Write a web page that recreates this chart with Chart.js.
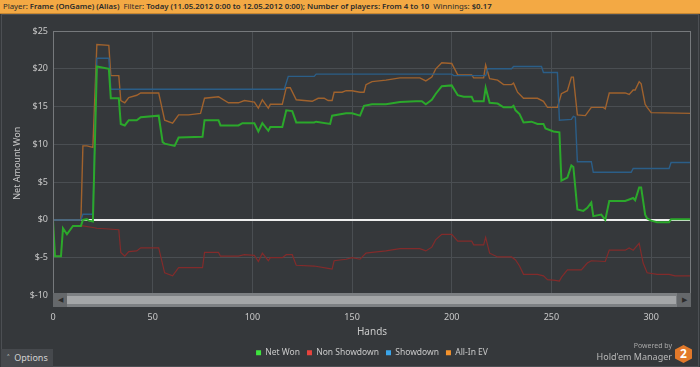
<!DOCTYPE html>
<html lang="en">
<head>
<meta charset="UTF-8">
<title>Net Amount Won</title>
<script src="https://cdn.jsdelivr.net/npm/chart.js"></script>
<style>
    body { margin: 0; background: #35383b; font-family: 'Noto Sans', sans-serif; }
    #panel { position: relative; width: 700px; height: 367px; overflow: hidden; background: #35383b; }
    .topbar {
        position: absolute; left: 0; top: 0; width: 700px; height: 14px;
        background: #f3a944; border-bottom: 1px solid #c58632; box-sizing: border-box;
        font-size: 7.8px; line-height: 13px; color: #2b2b2b; padding-left: 3px; white-space: nowrap;
    }
    .topbar b { font-weight: 600; }
    .frame { position: absolute; left: 1px; top: 14px; width: 696px; height: 351px; border: 1px solid #4c4f53; }
    #chartBox { position: absolute; left: 0; top: 14px; width: 700px; height: 353px; }
    .scroll { position: absolute; left: 53px; top: 293px; width: 638px; height: 14px; background: #7d8083; }
    .scroll .track { position: absolute; left: 14px; right: 15px; top: 3px; height: 8px; background: #a4a6a8; }
    .scroll .btn { position: absolute; top: 0; width: 14px; height: 14px; background: #65686b; color: #2c2c2c; font-size: 7px; line-height: 14px; text-align: center; }
    .options {
        position: absolute; left: 1px; top: 349px; width: 52px; height: 18px; background: #46494d;
        color: #d2d2d2; font-size: 9px; line-height: 18px; padding-left: 6px; box-sizing: border-box;
    }
    .powered { position: absolute; right: 28px; top: 341px; font-size: 7px; color: #a8a8a8; }
    .brand { position: absolute; right: 28px; top: 350px; font-size: 9px; color: #b9b9b9; }
    .hex {
        position: absolute; left: 675px; top: 345px; width: 17px; height: 18px; background: #e2792a;
        clip-path: polygon(50% 0, 100% 25%, 100% 75%, 50% 100%, 0 75%, 0 25%);
        color: #fff; font-weight: 700; font-size: 12px; line-height: 18px; text-align: center;
    }
</style>
</head>
<body>
<div id="panel">
    <div class="topbar">Player: <b>Frame (OnGame) (Alias)</b>&nbsp; Filter: <b>Today (11.05.2012 0:00 to 12.05.2012 0:00); Number of players: From 4 to 10</b>&nbsp; Winnings: <b>$0.17</b></div>
    <div class="frame"></div>
    <div id="chartBox"><canvas id="netChart" width="700" height="353"></canvas></div>
    <div class="scroll">
        <div class="btn" style="left:0">&#9664;</div>
        <div class="track"></div>
        <div class="btn" style="right:0">&#9654;</div>
    </div>
    <div class="options">&#708;&nbsp; Options</div>
    <div class="powered">Powered by</div>
    <div class="brand">Hold'em Manager</div>
    <div class="hex">2</div>
</div>
<script>
    // values, hand number -> dollars
    const netWonHands = [0, 1, 4, 5, 7, 10, 14, 15, 17, 18, 20, 22, 28, 29, 33, 34, 36, 38, 42, 44, 53, 55, 56, 61, 63, 75, 76, 83, 84, 93, 95, 101, 103, 105, 108, 109, 115, 117, 120, 122, 131, 132, 139, 140, 147, 150, 154, 156, 160, 167, 174, 182, 185, 187, 190, 192, 195, 200, 203, 206, 210, 211, 216, 217, 219, 223, 226, 230, 231, 232, 234, 236, 240, 243, 246, 247, 251, 254, 255, 258, 260, 261, 263, 266, 268, 270, 271, 275, 277, 279, 287, 291, 292, 294, 295, 297, 298, 300, 303, 309, 310, 320];
    const netWonValues = [0, -4.8, -4.8, -1.1, -1.9, -0.8, -0.8, 0, 0.1, -0.1, -0.2, 20.3, 20.0, 16.1, 16.1, 12.7, 12.5, 13.2, 13.2, 13.6, 13.8, 10.3, 10.1, 9.8, 10.9, 11.0, 13.2, 13.2, 12.5, 12.5, 12.8, 12.8, 11.7, 12.8, 11.8, 12.3, 12.3, 14.5, 14.4, 12.9, 12.9, 13.0, 12.7, 13.8, 14.1, 14.1, 13.8, 15.1, 15.3, 15.3, 15.6, 15.7, 15.7, 15.3, 15.9, 16.7, 17.7, 17.8, 16.5, 16.3, 16.3, 15.7, 15.7, 17.5, 15.5, 15.4, 14.9, 14.9, 15.1, 14.5, 14.0, 12.9, 13.0, 12.7, 12.7, 12.1, 11.7, 11.6, 5.2, 5.6, 7.2, 7.0, 1.4, 1.2, 1.6, 2.3, 0.5, 0.7, 0.0, 2.5, 2.5, 2.9, 2.6, 4.3, 4.3, 0.7, 0.2, -0.1, -0.3, -0.3, 0.1, 0.1];

    const nonShowdownHands = [0, 1, 4, 5, 7, 10, 14, 15, 20, 22, 28, 33, 34, 36, 38, 42, 44, 53, 56, 60, 63, 75, 76, 83, 84, 93, 96, 101, 103, 105, 108, 109, 115, 117, 120, 122, 131, 138, 140, 141, 147, 150, 154, 157, 160, 167, 174, 184, 187, 190, 192, 195, 200, 203, 210, 211, 216, 217, 219, 223, 230, 232, 234, 236, 243, 246, 248, 252, 254, 255, 258, 265, 268, 270, 277, 279, 287, 289, 291, 294, 296, 298, 303, 309, 312, 320];
    const nonShowdownValues = [0, -4.8, -4.8, -1.1, -1.9, -0.8, -0.8, -0.8, -1.0, -1.1, -1.2, -1.3, -4.3, -4.8, -4.2, -4.1, -3.7, -3.7, -7.0, -7.4, -6.3, -6.3, -4.3, -4.3, -4.8, -4.8, -4.6, -4.7, -5.5, -4.4, -5.4, -5.0, -5.0, -4.6, -4.6, -6.0, -6.1, -6.4, -6.5, -5.4, -5.2, -5.0, -5.2, -4.4, -4.3, -4.1, -3.8, -3.8, -4.1, -3.6, -2.6, -1.9, -1.9, -2.8, -2.8, -3.3, -3.3, -2.3, -4.4, -4.9, -4.9, -5.3, -6.1, -7.2, -7.2, -7.4, -7.9, -8.0, -8.1, -7.6, -6.6, -6.6, -5.7, -5.4, -5.5, -4.0, -4.0, -3.7, -4.0, -3.1, -5.7, -7.0, -7.2, -7.2, -7.4, -7.4];

    const showdownHands = [0, 14, 15, 20, 22, 28, 29, 116, 118, 131, 132, 200, 201, 217, 218, 230, 231, 245, 246, 253, 254, 260, 261, 262, 263, 270, 271, 290, 291, 309, 310, 320];
    const showdownValues = [0, 0, 0.75, 0.75, 21.4, 21.4, 17.3, 17.3, 19.0, 19.0, 19.3, 19.3, 19.1, 19.1, 20.0, 20.0, 20.3, 20.3, 19.5, 19.5, 13.2, 13.3, 13.7, 13.6, 7.7, 7.7, 6.3, 6.3, 6.8, 6.8, 7.6, 7.6];

    const allInHands = [0, 14, 15, 17, 20, 22, 28, 29, 33, 34, 36, 38, 42, 44, 53, 56, 60, 63, 68, 74, 76, 83, 88, 93, 96, 101, 103, 105, 108, 109, 115, 117, 119, 122, 130, 133, 136, 138, 140, 141, 145, 147, 150, 154, 156, 157, 160, 167, 174, 184, 187, 190, 192, 195, 200, 203, 210, 211, 216, 217, 219, 223, 226, 230, 231, 233, 236, 243, 246, 248, 253, 255, 258, 260, 261, 263, 267, 270, 276, 277, 279, 287, 289, 291, 292, 294, 295, 297, 298, 300, 320];
    const allInValues = [0, 0, 9.8, 9.8, 9.6, 23.2, 23.1, 19.1, 19.1, 15.8, 15.5, 16.2, 16.5, 16.8, 16.8, 13.2, 12.8, 13.9, 13.9, 14.1, 16.1, 16.3, 15.5, 15.5, 15.8, 15.6, 14.8, 15.9, 14.8, 15.3, 15.3, 17.5, 17.5, 15.9, 15.7, 16.1, 16.1, 15.8, 15.8, 16.9, 16.9, 17.1, 17.1, 16.9, 16.9, 17.9, 18.3, 18.5, 18.8, 18.8, 18.4, 18.9, 20.0, 20.8, 20.7, 19.2, 19.2, 18.8, 18.8, 20.5, 18.7, 18.5, 17.9, 17.9, 18.1, 16.9, 16.1, 16.1, 15.7, 14.9, 14.9, 16.7, 17.1, 18.9, 18.9, 13.9, 13.8, 14.9, 14.9, 14.7, 16.8, 16.8, 16.6, 17.2, 17.2, 18.3, 18.0, 15.3, 14.9, 14.2, 14.1];

    const yTicks = [-10, -5, 0, 5, 10, 15, 20, 25];
    const xTickStep = 50;

    function points(hands, values) {
        return hands.map((h, i) => ({ x: h, y: values[i] }));
    }

    const legendColors = ['#3ee43e', '#e8433d', '#3aa5ea', '#f5932c'];

    const plotFrame = {
        id: 'plotFrame',
        afterDraw(chart) {
            const a = chart.chartArea;
            const c = chart.ctx;
            c.save();
            c.strokeStyle = '#76797c';
            c.lineWidth = 1;
            c.strokeRect(a.left + 0.5, a.top + 0.5, a.right - a.left - 1, a.bottom - a.top);
            c.restore();
        }
    };

    Chart.defaults.font.family = "'Noto Sans', sans-serif";

    const ctx = document.getElementById('netChart').getContext('2d');
    const chart = new Chart(ctx, {
        type: 'line',
        data: {
            datasets: [
                { label: 'Net Won', data: points(netWonHands, netWonValues), borderColor: '#2ba82b', borderWidth: 2 },
                { label: 'Non Showdown', data: points(nonShowdownHands, nonShowdownValues), borderColor: '#832b2b', borderWidth: 1.2 },
                { label: 'Showdown', data: points(showdownHands, showdownValues), borderColor: '#2b5e88', borderWidth: 1.4 },
                { label: 'All-In EV', data: points(allInHands, allInValues), borderColor: '#a0622d', borderWidth: 1.4 }
            ]
        },
        options: {
            responsive: false,
            animation: false,
            devicePixelRatio: 1,
            elements: { point: { radius: 0 }, line: { tension: 0 } },
            layout: { padding: { top: 17, right: 9, left: 0, bottom: 0 } },
            plugins: {
                tooltip: { enabled: false },
                legend: {
                    position: 'bottom',
                    fullSize: false,
                    labels: {
                        color: '#c9c9c9',
                        font: { size: 8.5 },
                        boxWidth: 5,
                        boxHeight: 5,
                        padding: 7,
                        generateLabels: (ch) => ch.data.datasets.map((ds, i) => ({
                            text: ds.label,
                            fillStyle: legendColors[i],
                            strokeStyle: legendColors[i],
                            lineWidth: 0,
                            fontColor: '#c9c9c9',
                            datasetIndex: i
                        }))
                    }
                }
            },
            scales: {
                x: {
                    type: 'linear',
                    min: 0,
                    max: 320,
                    afterFit: (s) => { s.height = 46; },
                    ticks: { stepSize: xTickStep, includeBounds: false, color: '#c9c9c9', font: { size: 9 }, padding: 17, maxRotation: 0 },
                    grid: { color: '#4a4e52', drawTicks: false },
                    border: { display: false },
                    title: { display: true, text: 'Hands', color: '#c9c9c9', font: { size: 10 }, padding: { top: 0, bottom: 3 } }
                },
                y: {
                    min: yTicks[0],
                    max: yTicks[yTicks.length - 1],
                    afterFit: (s) => { s.width = 53; },
                    afterBuildTicks: (s) => { s.ticks = yTicks.map(v => ({ value: v })); },
                    ticks: { color: '#c9c9c9', font: { size: 9 }, padding: 5, callback: (v) => '$' + v },
                    grid: {
                        drawTicks: false,
                        color: (c) => c.tick && c.tick.value === 0 ? '#eeeeee' : '#4a4e52',
                        lineWidth: (c) => c.tick && c.tick.value === 0 ? 2 : 1
                    },
                    border: { display: false },
                    title: { display: true, text: 'Net Amount Won', color: '#c9c9c9', font: { size: 9 }, padding: { top: 12, bottom: 0 } }
                }
            }
        },
        plugins: [plotFrame]
    });
</script>
</body>
</html>
